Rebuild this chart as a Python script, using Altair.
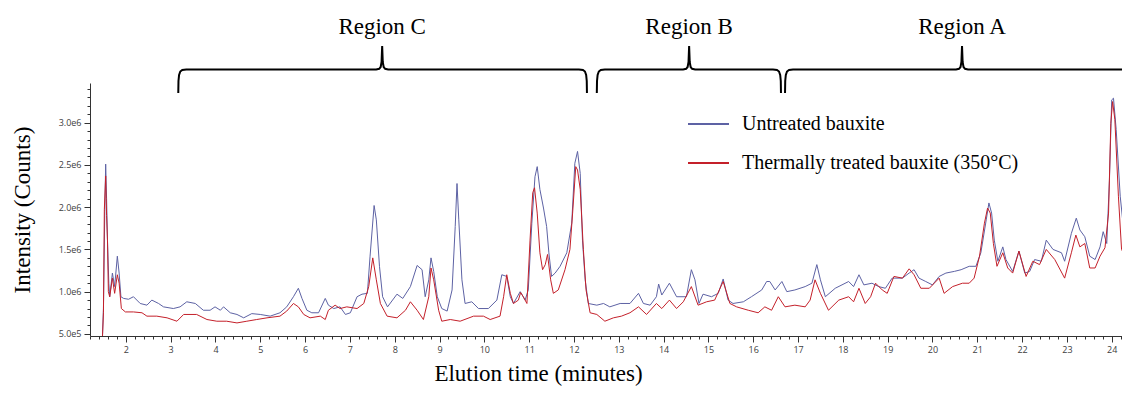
import altair as alt
import pandas as pd

# ---------------- data ----------------
# intensity in millions of counts, time in minutes
UNTREATED_T = [1.47, 1.50, 1.53, 1.55, 1.57, 1.59, 1.62, 1.64, 1.70, 1.75, 1.81, 1.85, 1.89, 1.95,
               2.06, 2.17, 2.32, 2.47, 2.58, 2.73, 2.84, 3.06, 3.21, 3.36, 3.55, 3.73, 3.88, 3.99,
               4.11, 4.18, 4.33, 4.48, 4.63, 4.81, 5.00, 5.22, 5.44, 5.59, 5.74, 5.85, 5.93, 6.04,
               6.15, 6.30, 6.45, 6.52, 6.64, 6.78, 6.90, 7.01, 7.16, 7.27, 7.39, 7.45, 7.54, 7.59,
               7.66, 7.73, 7.84, 8.05, 8.18, 8.35, 8.50, 8.61, 8.68, 8.76, 8.81, 8.87, 8.95, 9.05,
               9.17, 9.28, 9.35, 9.39, 9.43, 9.50, 9.57, 9.72, 9.87, 10.09, 10.28, 10.39, 10.50,
               10.58, 10.65, 10.80, 10.91, 10.98, 11.06, 11.13, 11.18, 11.24, 11.32, 11.39, 11.44,
               11.50, 11.58, 11.69, 11.84, 11.95, 12.02, 12.08, 12.14, 12.19, 12.25, 12.32, 12.51,
               12.66, 12.80, 13.03, 13.25, 13.44, 13.55, 13.70, 13.84, 13.89, 13.96, 14.13, 14.29,
               14.51, 14.62, 14.70, 14.79, 14.88, 15.07, 15.22, 15.33, 15.44, 15.55, 15.78, 15.96,
               16.19, 16.30, 16.37, 16.49, 16.64, 16.75, 16.93, 17.16, 17.31, 17.42, 17.50, 17.61,
               17.83, 18.13, 18.24, 18.36, 18.47, 18.65, 18.80, 18.95, 19.10, 19.33, 19.48, 19.59,
               19.70, 19.85, 20.00, 20.15, 20.30, 20.49, 20.64, 20.82, 20.97, 21.08, 21.20, 21.26,
               21.32, 21.38, 21.46, 21.57, 21.64, 21.79, 21.93, 22.06, 22.17, 22.28, 22.43, 22.54,
               22.69, 22.88, 22.95, 23.10, 23.21, 23.29, 23.40, 23.51, 23.63, 23.74, 23.81, 23.89,
               23.95, 24.00, 24.04, 24.10, 24.19, 24.26, 24.34, 24.41]
UNTREATED_V = [0.35, 0.80, 1.95, 2.51, 2.10, 1.61, 1.10, 0.94, 1.22, 1.06, 1.42, 1.22, 0.94, 0.92,
               0.91, 0.94, 0.86, 0.84, 0.90, 0.86, 0.82, 0.80, 0.82, 0.88, 0.86, 0.78, 0.78, 0.82,
               0.78, 0.82, 0.75, 0.73, 0.69, 0.74, 0.73, 0.71, 0.75, 0.82, 0.94, 1.04, 0.92, 0.78,
               0.75, 0.75, 0.92, 0.84, 0.80, 0.82, 0.73, 0.75, 0.94, 0.97, 0.98, 1.42, 2.02, 1.85,
               1.30, 0.94, 0.82, 0.97, 0.92, 1.06, 1.31, 1.26, 0.94, 1.14, 1.40, 1.24, 0.94, 0.80,
               0.77, 1.02, 1.77, 2.28, 1.85, 1.14, 0.86, 0.88, 0.80, 0.80, 0.90, 1.20, 1.18,
               0.94, 0.86, 1.00, 0.90, 1.02, 1.81, 2.36, 2.48, 2.21, 1.99, 1.77, 1.46,
               1.18, 1.22, 1.30, 1.46, 1.81, 2.52, 2.66, 2.40, 1.61, 1.14, 0.86, 0.84,
               0.86, 0.82, 0.86, 0.86, 0.98, 0.86, 0.84, 0.94, 1.09, 0.96, 1.10, 0.94,
               0.94, 1.26, 1.14, 0.86, 0.97, 0.94, 0.98, 1.15, 0.90, 0.86, 0.88, 0.94,
               1.02, 1.12, 1.12, 1.02, 1.12, 1.00, 1.02, 1.06, 1.10, 1.32, 1.14, 0.94,
               1.04, 1.12, 1.06, 1.20, 1.08, 1.10, 1.06, 1.04, 1.16, 1.16, 1.22, 1.26,
               1.16, 1.12, 1.08, 1.18, 1.22, 1.24, 1.26, 1.30, 1.30, 1.46, 1.85, 2.05,
               1.93, 1.61, 1.36, 1.53, 1.38, 1.24, 1.48, 1.22, 1.24, 1.38, 1.36, 1.61,
               1.50, 1.46, 1.36, 1.69, 1.87, 1.73, 1.65, 1.42, 1.38, 1.53, 1.71, 1.57,
               2.32, 3.27, 3.29, 2.92, 2.13, 1.77, 1.61, 1.50]

TREATED_T = [1.47, 1.50, 1.52, 1.55, 1.57, 1.59, 1.61, 1.64, 1.70, 1.75, 1.81, 1.85, 1.90, 1.99,
             2.17, 2.36, 2.47, 2.69, 2.92, 3.14, 3.29, 3.58, 3.81, 4.03, 4.25, 4.48, 4.70, 4.92,
             5.15, 5.44, 5.59, 5.74, 5.85, 5.97, 6.11, 6.34, 6.45, 6.52, 6.67, 6.78, 6.93, 7.16,
             7.31, 7.42, 7.51, 7.59, 7.68, 7.83, 8.05, 8.24, 8.35, 8.50, 8.64, 8.76, 8.81, 8.87,
             8.98, 9.05, 9.24, 9.46, 9.76, 9.98, 10.13, 10.35, 10.43, 10.50, 10.58, 10.65, 10.76,
             10.81, 10.87, 10.95, 11.02, 11.08, 11.12, 11.18, 11.24, 11.30, 11.36, 11.41, 11.48,
             11.54, 11.65, 11.80, 11.91, 11.97, 12.04, 12.08, 12.14, 12.21, 12.27, 12.36, 12.51,
             12.69, 12.88, 13.06, 13.25, 13.44, 13.62, 13.84, 13.96, 14.13, 14.29, 14.44, 14.62,
             14.77, 14.96, 15.14, 15.33, 15.48, 15.63, 15.89, 16.11, 16.26, 16.41, 16.56, 16.71,
             16.93, 17.16, 17.27, 17.38, 17.50, 17.68, 17.91, 18.13, 18.24, 18.36, 18.50, 18.62,
             18.73, 18.88, 18.99, 19.14, 19.33, 19.48, 19.59, 19.74, 19.93, 20.15, 20.26, 20.45,
             20.67, 20.82, 20.93, 21.05, 21.16, 21.23, 21.29, 21.36, 21.44, 21.57, 21.68, 21.79,
             21.93, 22.09, 22.24, 22.39, 22.54, 22.73, 22.95, 23.10, 23.20, 23.29, 23.40, 23.51,
             23.63, 23.74, 23.85, 23.93, 23.98, 24.02, 24.07, 24.15, 24.22, 24.34, 24.41]
TREATED_V = [0.35, 0.75, 1.97, 2.37, 1.90, 1.61, 1.00, 0.94, 1.16, 0.98, 1.20, 1.10, 0.80, 0.76,
             0.76, 0.75, 0.71, 0.71, 0.69, 0.65, 0.73, 0.73, 0.67, 0.65, 0.65, 0.63, 0.65, 0.67,
             0.69, 0.71, 0.77, 0.86, 0.82, 0.73, 0.69, 0.71, 0.67, 0.78, 0.84, 0.80, 0.82, 0.80,
             0.86, 1.06, 1.40, 1.14, 0.86, 0.71, 0.69, 0.78, 0.88, 0.78, 0.67, 0.94, 1.28, 1.14,
             0.78, 0.65, 0.67, 0.65, 0.71, 0.71, 0.67, 0.71, 0.94, 1.20, 0.98, 0.86, 0.90,
             0.99, 0.94, 0.86, 1.61, 2.17, 2.23, 1.93, 1.46, 1.26, 1.32, 1.44, 1.14,
             0.98, 1.02, 1.26, 1.50, 1.93, 2.48, 2.44, 2.21, 1.50, 1.02, 0.75, 0.73,
             0.65, 0.69, 0.71, 0.75, 0.82, 0.73, 0.86, 0.80, 0.90, 0.80, 0.88, 1.06,
             0.84, 0.88, 0.90, 1.12, 0.86, 0.82, 0.78, 0.75, 0.82, 0.78, 0.94, 0.82,
             0.84, 0.82, 0.90, 1.14, 0.98, 0.78, 0.90, 0.94, 0.88, 1.04, 0.86, 0.94,
             1.10, 1.02, 0.98, 1.18, 1.16, 1.27, 1.20, 1.04, 1.04, 1.16, 0.98, 1.06,
             1.10, 1.10, 1.16, 1.42, 1.81, 1.99, 1.93, 1.57, 1.30, 1.46, 1.28, 1.22,
             1.48, 1.18, 1.36, 1.32, 1.50, 1.38, 1.16, 1.46, 1.67, 1.53, 1.57, 1.28,
             1.28, 1.42, 1.52, 1.93, 2.99, 3.25, 3.04, 2.13, 1.50, 1.38, 1.36]

SERIES = ["Untreated bauxite", "Thermally treated bauxite (350\u00b0C)"]
COLORS = ["#5d62a4", "#c4202a"]

REGION_NAMES = ["Region C", "Region B", "Region A"]
REGION_START = [3.17, 12.51, 16.71]
REGION_END = [12.29, 16.62, 24.75]
REGION_MID = [7.72, 14.57, 20.66]

X_DOMAIN = [1.2, 24.23]
Y_DOMAIN = [0.475, 3.47]
X_TICKS = [round(1.2 + 0.2 * i, 1) for i in range(116)]
Y_TICKS = [round(0.5 + 0.1 * i, 1) for i in range(30)]

W, H = 1032, 253
SERIF = "Liberation Serif"

# ---------------- tables ----------------
df = pd.concat([
    pd.DataFrame({"t": UNTREATED_T, "v": UNTREATED_V, "series": SERIES[0]}),
    pd.DataFrame({"t": TREATED_T, "v": TREATED_V, "series": SERIES[1]}),
], ignore_index=True)

# curly braces over each region (shape in pixel offsets, converted to minutes)
mpp = (X_DOMAIN[1] - X_DOMAIN[0]) / W
LEFT = [(0, 243), (0.2, 255), (0.8, 261), (2, 264.5), (4, 266), (8, 266.5)]
MID = [(-6, 266.5), (-3, 267.2), (-1.5, 269), (-0.6, 274), (0, 290),
       (0.6, 274), (1.5, 269), (3, 267.2), (6, 266.5)]
RIGHT = [(-8, 266.5), (-4, 266), (-2, 264.5), (-0.8, 261), (-0.2, 255), (0, 243)]
rows = []
for name, a, m, b in zip(REGION_NAMES, REGION_START, REGION_MID, REGION_END):
    i = 0
    for base, shape in ((a, LEFT), (m, MID), (b, RIGHT)):
        for dx, yy in shape:
            rows.append({"region": name, "i": i, "t": base + dx * mpp, "b": yy})
            i += 1
brace_df = pd.DataFrame(rows)
label_df = pd.DataFrame({"region": REGION_NAMES, "t": REGION_MID, "b": [309] * 3})
legend_df = pd.DataFrame({"series": SERIES, "ly": [41, 80]})

color_scale = alt.Scale(domain=SERIES, range=COLORS)
xscale = alt.Scale(domain=X_DOMAIN, nice=False, zero=False)
yscale = alt.Scale(domain=Y_DOMAIN, nice=False, zero=False)
bscale = alt.Scale(domain=[0, H], nice=False, zero=False)

x_axis = alt.Axis(
    values=X_TICKS,
    labelExpr="datum.value % 1 === 0 ? format(datum.value, 'd') : ''",
    tickSize={"condition": {"test": "datum.value % 1 === 0", "value": 6}, "value": 3},
    labelOverlap=False, labelFlush=False, labelPadding=3,
    title="Elution time (minutes)", titleX=448, titleY=44,
    titleAlign="center", titleBaseline="alphabetic",
)
maj = "abs(datum.value*2 - round(datum.value*2)) < 1e-6"
y_axis = alt.Axis(
    values=Y_TICKS,
    labelExpr=maj + " ? replace(format(datum.value*1e6, '.1e'), '+', '') : ''",
    tickSize={"condition": {"test": maj, "value": 6}, "value": 3},
    labelOverlap=False, labelFlush=False, labelPadding=3,
    title="Intensity (Counts)", titleX=-68, titleY=H / 2,
    titleAngle=270, titleAlign="center", titleBaseline="middle",
)
X = alt.X("t:Q", scale=xscale, axis=x_axis)

blue = alt.Chart(df).transform_filter(alt.datum.series == SERIES[0]).mark_line(
    strokeWidth=1, clip=True, color=COLORS[0]
).encode(
    x=X,
    y=alt.Y("v:Q", scale=yscale, axis=y_axis),
)
red = alt.Chart(df).transform_filter(alt.datum.series == SERIES[1]).mark_line(
    strokeWidth=1, clip=True, color=COLORS[1]
).encode(
    x=X,
    y=alt.Y("v:Q", scale=yscale, axis=None),
)
braces = alt.Chart(brace_df).mark_line(color="black", strokeWidth=2, clip=False).encode(
    x=X,
    y=alt.Y("b:Q", scale=bscale, axis=None),
    detail="region:N",
    order="i:Q",
)
labels = alt.Chart(label_df).mark_text(
    font=SERIF, fontSize=23, color="black", baseline="middle", align="center", clip=False
).encode(
    x=X,
    y=alt.Y("b:Q", scale=bscale, axis=None),
    text="region:N",
)
leg_lines = alt.Chart(legend_df).mark_rule(strokeWidth=2).encode(
    x=alt.value(598), x2=alt.value(639),
    y=alt.Y("ly:Q", scale=None, axis=None),
    color=alt.Color("series:N", scale=color_scale, legend=None),
)
leg_text = alt.Chart(legend_df).mark_text(
    font=SERIF, fontSize=20, color="black", align="left", baseline="middle"
).encode(
    x=alt.value(652),
    y=alt.Y("ly:Q", scale=None, axis=None),
    text="series:N",
)

chart = alt.layer(blue, red, braces, labels, leg_lines, leg_text).resolve_scale(
    y="independent"
).properties(
    width=W, height=H,
    autosize=alt.AutoSizeParams(type="none"),
    padding={"left": 82, "top": 75, "right": 0, "bottom": 50},
).configure_view(strokeWidth=0).configure_axis(
    grid=False, domainColor="#333333", tickColor="#333333", domainWidth=1, tickWidth=1,
    labelColor="#404040", labelFont="Open Sans", labelFontSize=9,
    titleFont=SERIF, titleFontSize=23, titleFontWeight="normal", titleColor="black",
)

chart.save("out.html", embed_options={"renderer": "svg", "actions": False})
